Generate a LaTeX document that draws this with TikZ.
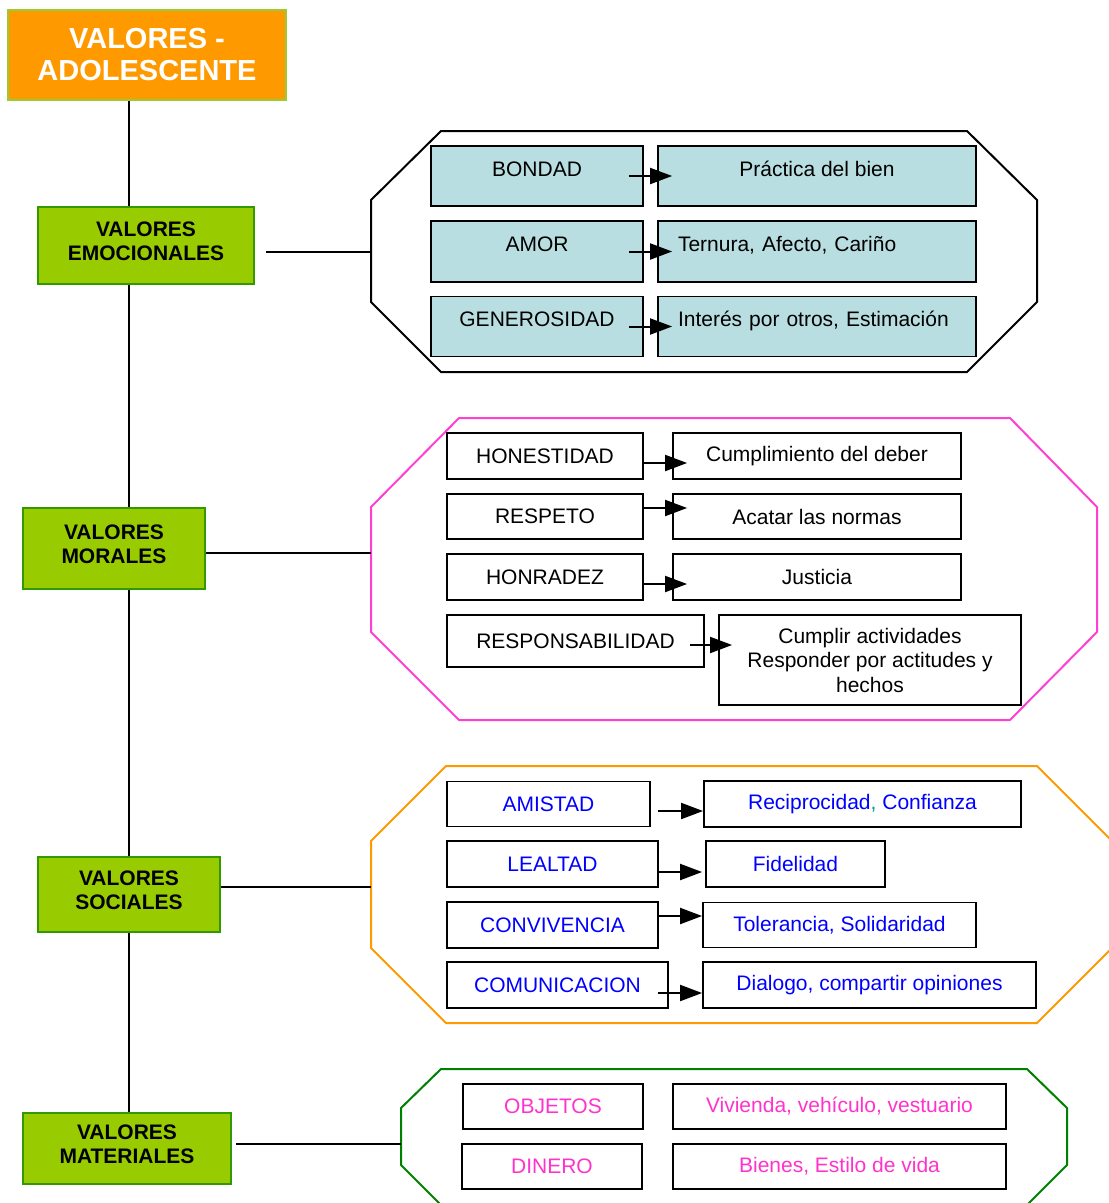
\documentclass[tikz,border=0pt]{standalone}
\usepackage{fontspec}
\setmainfont{Liberation Sans}
\usetikzlibrary{arrows.meta,calc,backgrounds}

\definecolor{titlefill}{RGB}{255,153,0}
\definecolor{titleborder}{RGB}{153,204,51}
\definecolor{catfill}{RGB}{153,204,0}
\definecolor{catborder}{RGB}{51,153,0}
\definecolor{emofill}{RGB}{185,222,225}
\definecolor{pinkline}{RGB}{255,64,208}
\definecolor{pinktext}{RGB}{255,51,204}
\definecolor{orangeline}{RGB}{255,153,0}
\definecolor{greenline}{RGB}{0,128,0}
\definecolor{bluetext}{RGB}{0,0,255}
\definecolor{commateal}{RGB}{0,153,153}

\tikzset{
  base/.style={inner sep=0pt, font=\fontsize{21}{24.5}\selectfont},
  titlebox/.style={inner sep=0pt, draw=titleborder, fill=titlefill, line width=2pt,
    text=white, align=center, font=\fontsize{29}{32}\selectfont\bfseries},
  catbox/.style={inner sep=0pt, draw=catborder, fill=catfill, line width=2pt,
    align=center, font=\fontsize{21}{24.5}\selectfont\bfseries},
  emobox/.style={base, draw=black, fill=emofill, line width=1.8pt,
    text height=30pt, text depth=30pt},
  plainbox/.style={base, draw=black, fill=white, line width=1.8pt, align=center},
  link/.style={line width=2pt},
  arr/.style={line width=2pt, -{Triangle[length=22pt,width=16pt]}},
  frame/.style={line width=2pt},
}

\begin{document}
\begin{tikzpicture}[x=1pt,y=-1pt]
\useasboundingbox (0,0) rectangle (1109,1203);
\clip (0,0) rectangle (1109,1203);

% ---- title and category boxes ----
\node[titlebox, minimum width=278pt, minimum height=90pt] (title) at (147,55) {VALORES -\\ADOLESCENTE};
\node[catbox, minimum width=216pt, minimum height=77pt, text depth=9pt] (ve) at (146,245.5) {VALORES\\EMOCIONALES};
\node[catbox, minimum width=182pt, minimum height=81pt, text depth=9pt] (vm) at (114,548.5) {VALORES\\MORALES};
\node[catbox, minimum width=182pt, minimum height=75pt, text depth=9pt] (vs) at (129,894.5) {VALORES\\SOCIALES};
\node[catbox, minimum width=208pt, minimum height=71pt, text depth=9pt] (vmat) at (127,1148.5) {VALORES\\MATERIALES};

% trunk behind the boxes
\coordinate (trunk) at (129,0);
\begin{scope}[on background layer]
  \draw[link] (trunk |- title.south) -- (trunk |- vmat.north);
\end{scope}

% ---- emotional values ----
\node[emobox, minimum width=212pt, minimum height=60pt] (b1) at (537,176) {BONDAD};
\node[emobox, minimum width=212pt, minimum height=61pt] (b2) at (537,251.5) {AMOR};
\node[emobox, minimum width=212pt, minimum height=59pt] (b3) at (537,326.5) {GENEROSIDAD};
\node[emobox, minimum width=318pt, minimum height=60pt] (r1) at (817,176) {Práctica del bien};
\node[emobox, minimum width=318pt, minimum height=61pt, text width=278pt, align=left] (r2) at (817,251.5) {Ternura, Afecto, Cariño};
\node[emobox, minimum width=318pt, minimum height=59pt, text width=278pt, align=left] (r3) at (817,326.5) {Interés por otros, Estimación};

\draw[arr] ($(b1.east)+(-15,0)$) -- ($(r1.west)+(15,0)$);
\draw[arr] ($(b2.east)+(-15,0)$) -- ($(r2.west)+(15,0)$);
\draw[arr] ($(b3.east)+(-15,0)$) -- ($(r3.west)+(15,0)$);

% ---- moral values ----
\node[plainbox, minimum width=196pt, minimum height=46pt] (h1) at (545,456) {HONESTIDAD};
\node[plainbox, minimum width=196pt, minimum height=45pt] (h2) at (545,516.5) {RESPETO};
\node[plainbox, minimum width=196pt, minimum height=46pt] (h3) at (545,577) {HONRADEZ};
\node[plainbox, minimum width=257pt, minimum height=52pt] (h4) at (575.5,641) {RESPONSABILIDAD};
\node[plainbox, minimum width=288pt, minimum height=46pt] (c1) at (817,456) {Cumplimiento del deber};
\node[plainbox, minimum width=288pt, minimum height=45pt] (c2) at (817,516.5) {Acatar las normas};
\node[plainbox, minimum width=288pt, minimum height=46pt] (c3) at (817,577) {Justicia};
\node[plainbox, minimum width=302pt, minimum height=90pt] (c4) at (870,660) {Cumplir actividades\\Responder por actitudes y\\hechos};

\draw[arr] ($(h1.east)+(0,7)$) -- ($(c1.west)+(15,7)$);
\draw[arr] ($(h2.east)+(0,-8.5)$) -- ($(c2.west)+(15,-8.5)$);
\draw[arr] ($(h3.east)+(0,7)$) -- ($(c3.west)+(15,7)$);
\draw[arr] ($(h4.east)+(-15,4)$) -- ($(c4.west)+(14,-15)$);

% ---- social values ----
\begin{scope}[every node/.append style={text=bluetext}]
\node[plainbox, minimum width=203pt, minimum height=45pt] (s1) at (548.5,804) {AMISTAD};
\node[plainbox, minimum width=211pt, minimum height=46pt] (s2) at (552.5,864) {LEALTAD};
\node[plainbox, minimum width=211pt, minimum height=46pt] (s3) at (552.5,925) {CONVIVENCIA};
\node[plainbox, minimum width=221pt, minimum height=46pt] (s4) at (557.5,985) {COMUNICACION};
\node[plainbox, minimum width=317pt, minimum height=46pt] (t1) at (862.5,804) {Reciprocidad\textcolor{commateal}{,} Confianza};
\node[plainbox, minimum width=179pt, minimum height=46pt] (t2) at (795.5,864) {Fidelidad};
\node[plainbox, minimum width=273pt, minimum height=45pt] (t3) at (839.5,925) {Tolerancia, Solidaridad};
\node[plainbox, minimum width=333pt, minimum height=46pt] (t4) at (869.5,985) {Dialogo, compartir opiniones};
\end{scope}

\draw[arr] ($(s1.east)+(7,7)$) -- ($(t1.west)+(0,7)$);
\draw[arr] ($(s2.east)+(0,8)$) -- ($(t2.west)+(-3,8)$);
\draw[arr] ($(s3.east)+(0,-9)$) -- ($(t3.west)+(0,-9)$);
\draw[arr] ($(s4.east)+(-11,8)$) -- ($(t4.west)+(0,8)$);

% ---- material values ----
\begin{scope}[every node/.append style={text=pinktext}]
\node[plainbox, minimum width=180pt, minimum height=45pt] (m1) at (553,1106.5) {OBJETOS};
\node[plainbox, minimum width=180pt, minimum height=45pt] (m2) at (552,1166.5) {DINERO};
\node[plainbox, minimum width=333pt, minimum height=45pt] (n1) at (839.5,1106.5) {Vivienda, vehículo, vestuario};
\node[plainbox, minimum width=333pt, minimum height=45pt] (n2) at (839.5,1166.5) {Bienes, Estilo de vida};
\end{scope}

% ---- octagonal frames ----
\draw[frame] (441,131) -- (967,131) -- (1037,200) -- (1037,302) -- (967,372)
  -- (441,372) -- (371,302) -- (371,200) -- cycle;
\draw[frame, pinkline] (459,418) -- (1010,418) -- (1097,507) -- (1097,632) -- (1010,720)
  -- (459,720) -- (371,632) -- (371,507) -- cycle;
\draw[frame, orangeline] (446,766) -- (1037,766) -- (1112,841) -- (1112,948) -- (1037,1023)
  -- (446,1023) -- (371,948) -- (371,841) -- cycle;
\draw[frame, greenline] (441,1069) -- (1027,1069) -- (1067,1108) -- (1067,1165) -- (1027,1205)
  -- (441,1205) -- (401,1165) -- (401,1108) -- cycle;

% ---- branches from the categories to their frames ----
\coordinate (emoL) at (371,252);
\coordinate (morL) at (371,553);
\coordinate (socL) at (371,887);
\coordinate (matL) at (401,1144);
\draw[link, shorten <=11pt] (ve.east |- emoL) -- (emoL);
\draw[link] (vm.east |- morL) -- (morL);
\draw[link] (vs.east |- socL) -- (socL);
\draw[link, shorten <=4pt] (vmat.east |- matL) -- (matL);
\end{tikzpicture}
\end{document}
